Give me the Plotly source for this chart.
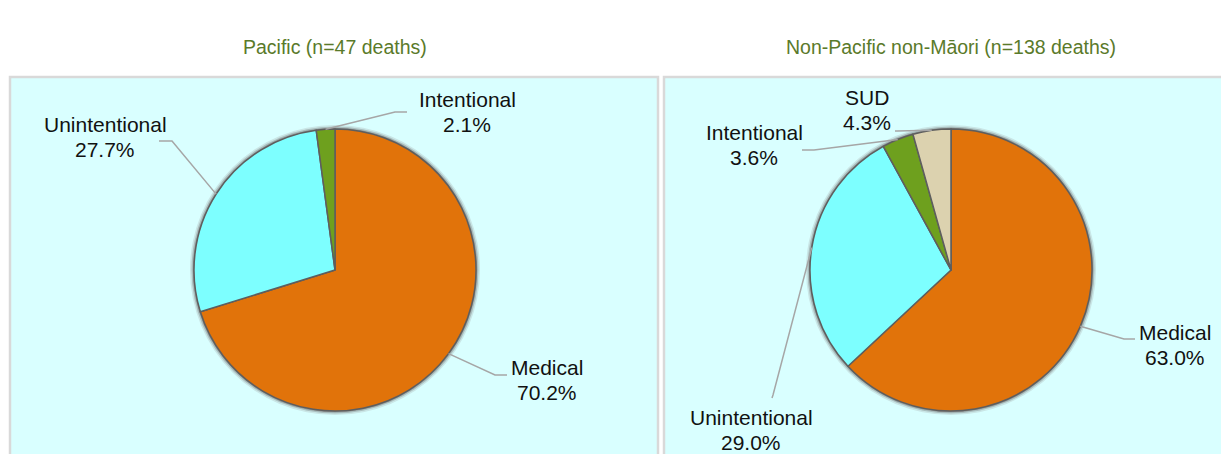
import math
import plotly.graph_objects as go

W, H = 1221, 454

# ---- data ----
categories_pacific = ["Medical", "Unintentional", "Intentional"]
deaths_pacific = [33, 13, 1]
categories_other = ["Medical", "Unintentional", "Intentional", "SUD"]
deaths_other = [87, 40, 5, 6]
titles = ["Pacific (n=47 deaths)", "Non-Pacific non-Māori (n=138 deaths)"]

colors = {"Medical": "#E1730A", "Unintentional": "#7DFFFF",
          "Intentional": "#6EA01E", "SUD": "#DCD2AF"}

def px(x):
    return x / W

def py(y):
    return 1 - y / H

# pie geometry (pixels)
pies = [
    dict(cats=categories_pacific, vals=deaths_pacific, cx=335, cy=270, r=141, title=titles[0]),
    dict(cats=categories_other, vals=deaths_other, cx=951, cy=270, r=141, title=titles[1]),
]

# label layout: elbow, end of leader, label centre (pixels)
label_layout = [
    {"Medical": dict(elbow=(495, 375), end=(507, 375), pos=(547, 380)),
     "Unintentional": dict(elbow=(172, 141), end=(159, 141), pos=(105, 137)),
     "Intentional": dict(elbow=(395, 112), end=(407, 112), pos=(467, 112))},
    {"Medical": dict(elbow=(1124, 339), end=(1135, 339), pos=(1175, 345)),
     "Unintentional": dict(elbow=(773, 395), end=(772, 398), pos=(751, 430)),
     "Intentional": dict(elbow=(814, 150), end=(802, 150), pos=(754, 145)),
     "SUD": dict(elbow=(897, 131), end=(895, 131), pos=(867, 110))},
]

fig = go.Figure()
shapes = []
annotations = []

# panels
for (x0, x1) in [(10, 658), (664, 1226)]:
    shapes.append(dict(type="rect", xref="paper", yref="paper",
                       x0=px(x0), x1=px(x1), y0=py(470), y1=py(77),
                       fillcolor="#D9FFFF", line=dict(color="#D9D9D9", width=2.5),
                       layer="below"))

for i, p in enumerate(pies):
    cx, cy, r = p["cx"], p["cy"], p["r"]
    # soft shadow ring
    for dr, col in [(4, "#C9E6E6"), (2.5, "#A9BEBE"), (1.2, "#8A9090")]:
        shapes.append(dict(type="circle", xref="paper", yref="paper",
                           x0=px(cx - r - dr), x1=px(cx + r + dr),
                           y0=py(cy + r + dr), y1=py(cy - r - dr),
                           fillcolor=col, line=dict(width=0), layer="below"))
    fig.add_trace(go.Pie(
        labels=p["cats"], values=p["vals"], sort=False, direction="clockwise",
        rotation=0, textinfo="none", hoverinfo="label+percent", showlegend=False,
        marker=dict(colors=[colors[c] for c in p["cats"]],
                    line=dict(color="#5E5E5E", width=1.5)),
        domain=dict(x=[px(cx - r), px(cx + r)], y=[py(cy + r), py(cy - r)]),
    ))
    annotations.append(dict(text=p["title"], x=px(cx), y=py(47), xref="paper", yref="paper",
                            showarrow=False, xanchor="center", yanchor="middle",
                            font=dict(family="Liberation Sans, Arial", size=19.5, color="#5A7A2A")))
    total = sum(p["vals"])
    cum = 0
    for cat, v in zip(p["cats"], p["vals"]):
        mid = (cum + v / 2) / total * 2 * math.pi
        cum += v
        ex, ey = cx + r * math.sin(mid), cy - r * math.cos(mid)
        lay = label_layout[i][cat]
        (bx, by), (tx, ty) = lay["elbow"], lay["end"]
        shapes.append(dict(type="path", xref="paper", yref="paper",
                           path=f"M {px(ex)},{py(ey)} L {px(bx)},{py(by)} L {px(tx)},{py(ty)}",
                           line=dict(color="#A6A6A6", width=1.5)))
        lx, ly = lay["pos"]
        pct = f"{v / total * 100:.1f}%"
        for txt, dy in [(cat, -12.5), (pct, 12.5)]:
            annotations.append(dict(text=txt, x=px(lx), y=py(ly + dy), xref="paper", yref="paper",
                                    showarrow=False, xanchor="center", yanchor="middle",
                                    font=dict(family="Liberation Sans, Arial", size=21, color="#111111")))

fig.update_layout(width=W, height=H, margin=dict(l=0, r=0, t=0, b=0),
                  paper_bgcolor="white", plot_bgcolor="white",
                  shapes=shapes, annotations=annotations)
fig.write_html("out.html", config={"displayModeBar": False},
               post_script="document.body.style.margin='0';document.body.style.overflow='hidden';")
